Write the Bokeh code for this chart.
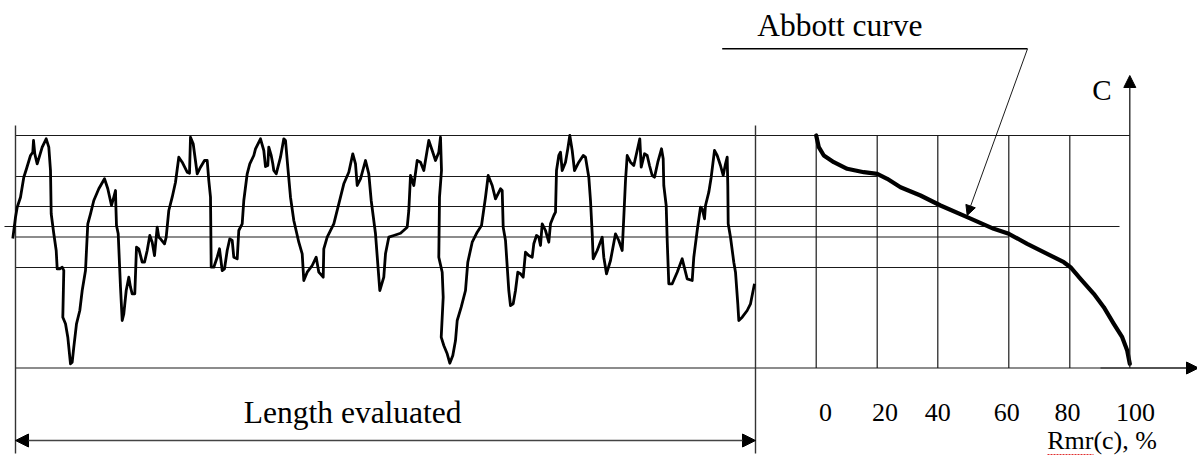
from bokeh.plotting import figure
from bokeh.models import Range1d, Arrow, NormalHead
from bokeh.core.properties import value
from bokeh.embed import file_html
from bokeh.resources import INLINE

# ---------------- data ----------------
# roughness profile: position along the evaluation length, height relative to the mean line
profile_x = [12.3, 15, 16.7, 20, 23.3, 26, 30, 32.3, 33, 34.3, 36.7, 41.7, 45.7, 48.3, 50, 50.7, 53.3, 55.7, 56.7, 59.3,
             61.7, 63.3, 62.3, 65, 67.3, 70, 71.7, 73.3, 76, 79.3, 81.7, 85, 87.3, 90, 93.3, 98.3, 104, 107.3, 111, 113.3,
             115, 115.3, 116, 117.7, 120, 121.7, 123.3, 125.7, 128.3, 130, 131.7, 134.3, 136, 138.3, 141.7, 144, 146.7, 149.3, 151.7, 154,
             156.7, 158.3, 160, 164, 165.7, 168.3, 171.7, 175, 178.3, 181.7, 186.7, 189, 190, 192.7, 196.7, 200, 204, 206.7, 208.3, 210,
             210.7, 213.3, 216.7, 219, 221.7, 224, 226.7, 229.3, 231.7, 233.3, 236.7, 238.3, 241.7, 243.3, 246.7, 249.3, 253.3, 255, 260, 263.3,
             265, 267.3, 268.3, 270.7, 272.3, 273.3, 275.7, 280, 283.3, 285, 287.3, 290, 293.3, 298.3, 301.7, 303.3, 306.7, 311.7, 315.7, 318.3,
             322.7, 323.3, 326.7, 333.3, 338.3, 343.3, 348.3, 352.3, 355, 356.7, 360, 365, 368.3, 370.7, 375, 379.3, 383.3, 385, 388.3, 393.3,
             400, 406.7, 408.3, 410, 413.3, 416.7, 420, 423.3, 428.3, 431.7, 435, 438.3, 440, 441, 439, 438.3, 441.7, 442.7, 440.7, 443.3,
             446.7, 449.3, 452.3, 455, 456.7, 460.7, 465, 467.3, 471.7, 476.7, 481, 485, 487.7, 491.7, 495, 500, 501.7, 502.7, 505, 508.3,
             510, 512.7, 515, 517.3, 520, 522.7, 525, 528.3, 531.7, 533.3, 536, 538.3, 540, 541.7, 545, 548.3, 550, 553.3, 555, 556,
             558.3, 560, 561.7, 565, 567.3, 569.3, 571.7, 574, 578.3, 582.7, 585, 588.3, 590, 591.7, 592.7, 596.7, 601.7, 603.3, 606, 610,
             615, 618.3, 621.7, 623.3, 625, 626.7, 630, 633.3, 636.7, 639.3, 640.7, 644, 646.7, 649, 651.7, 654, 657.3, 661, 662.7, 663.3,
             665.7, 666.7, 668.3, 671.7, 676.7, 681.7, 686.7, 691.7, 693.3, 696.7, 700, 701.7, 704, 705, 708.3, 710.7, 714, 716.7, 720, 722.7,
             725, 726.7, 727.3, 727.7, 730, 733.3, 735, 737.3, 738.3, 741.7, 746.7, 750, 754]
profile_z = [-12, 9.3, 19.3, 29.3, 49.3, 57.7, 71, 74.3, 86, 72.7, 62.7, 79.3, 87.7, 79.3, 56, 12.7, -7.3, -24, -42.3, -42.3,
             -40.7, -44, -90.7, -97.3, -110.7, -137.3, -135.7, -120.7, -97.3, -84, -64, -44, 2.7, 12.7, 26, 37.7, 47.7, 37.7, 21, 29.3,
             36, 22.7, 1, -7.3, -60.7, -94, -87.3, -64, -50.7, -60.7, -67.3, -67.3, -20.7, -22.3, -35.7, -35.7, -24, -9, -15.7, -29,
             -0.7, -10.7, -12.3, -17.3, -10.7, 16, 29.3, 44.3, 69.3, 64.3, 54.3, 53.3, 89.3, 82.7, 52.7, 59.3, 66, 66, 46, 29.3,
             -40.7, -40.7, -30.7, -22.3, -44, -42.3, -24, -12.3, -14, -30.7, -32.3, -4, 2.7, 26, 52.7, 62.7, 71, 77.7, 87.7, 76,
             60, 61, 79.3, 71, 62.7, 56, 52.7, 69.3, 87.7, 86, 59.3, 29.3, 6, -15.7, -27.3, -54, -45.7, -39, -30.7, -45.7,
             -50.7, -22.3, -10.7, 2.7, 22.7, 42.7, 54.3, 72.7, 62.7, 41, 47.7, 66, 52.7, 26, -7.3, -64, -50.7, -27.3, -10.7, -9,
             -6.7, -0.7, 16, 51, 41, 66, 64.3, 56, 86, 76, 66, 74.3, 89.3, 56, 29.3, -30.7, -45.7, -70.7, -110.7, -119,
             -127.3, -136.7, -129, -114, -94, -80.7, -64, -35.7, -15.7, -5.7, 1, 29.3, 51, 41, 27.7, 37.7, 36, -0.7, -14, -64,
             -79, -77.3, -64, -45.7, -47.3, -50.7, -25.7, -29, -30.7, -17.3, -9, -10.7, -19, 2.7, -4, -15.7, 2.7, 11, 14.3, 56,
             71, 74.3, 56, 64.3, 77.7, 91, 76, 56, 64.3, 71, 69.3, 49.3, 26, -7.3, -32.3, -24, -10.7, -30.7, -47.3, -34,
             -7.3, -14, -24, 9.3, 46, 71, 64.3, 61, 76, 87.7, 59.3, 72.7, 71, 61, 51, 49.3, 64.3, 77.7, 67.7, 41,
             21, -14, -57.3, -57.3, -45.7, -32.3, -52.3, -54, -30.7, -4, 19.3, 17.7, 7.7, 21, 34.3, 49.3, 76, 71, 61, 51,
             62.7, 69.3, 41, 2.7, -10.7, -35.7, -45.7, -77.3, -94, -90.7, -84, -77.3, -57.3]

# Abbott (material ratio) curve
abbott_x = [815.7, 818.3, 823.3, 833.3, 846.7, 863.3, 876.7, 886.7, 900, 920, 940, 966.7, 993.3, 1008.3, 1026.7,
            1046.7, 1063.3, 1070, 1080, 1093.3, 1103.3, 1113.3, 1121.7, 1126.7, 1129.3]
abbott_z = [91, 79.3, 71, 64.3, 57.7, 54.3, 52.7, 47.7, 39.3, 31, 21, 9.3, -2.3, -7.3, -17.3,
            -27.3, -35.7, -40.7, -52.3, -67.3, -80.7, -97.3, -110.7, -124, -137.3]

# section levels (height) and where each level line ends on the Rmr grid
level_z = [91, 50, 20, 0, -10.5, -41, -141.5]
level_start = [15, 15, 15, 4, 15, 15, 15]
level_end = [1129.3, 876.7, 937.3, 1119, 1008.3, 1069.3, 1197]

# Rmr grid
rmr_grid_x = [815.7, 876.7, 937.3, 1008.3, 1069.3]
rmr_labels = ["0", "20", "40", "60", "80", "100"]
rmr_label_x = [825, 884.5, 937.3, 1006.2, 1067, 1135]

# ---------------- figure ----------------
TOP, BOTTOM = 91, -141.5
p = figure(width=1197, height=457, x_range=Range1d(0, 1197), y_range=Range1d(-231, 226),
           output_backend="svg", toolbar_location=None, min_border=0,
           x_axis_location=None, y_axis_location=None)
p.grid.visible = False
p.outline_line_color = None
p.background_fill_color = "white"
p.border_fill_color = "white"

LC = "#1a1a1a"
# level lines
p.multi_line(xs=[[s, e] for s, e in zip(level_start, level_end)],
             ys=[[z, z] for z in level_z], line_color=LC, line_width=1.2)
# frame verticals
p.multi_line(xs=[[15, 15], [755, 755]], ys=[[101, -227], [101, -227]], line_color="#333333", line_width=1.4)
# Rmr grid verticals
p.multi_line(xs=[[x, x] for x in rmr_grid_x], ys=[[TOP, BOTTOM] for _ in rmr_grid_x],
             line_color=LC, line_width=1.2)

# profile
p.line(profile_x, profile_z, line_color="black", line_width=2.8, line_join="round")
# Abbott curve
p.line(abbott_x, abbott_z, line_color="black", line_width=4.2, line_join="round", line_cap="round")

# axis arrows
p.add_layout(Arrow(end=NormalHead(size=12, fill_color="black", line_color="black"),
                   x_start=1129.3, y_start=BOTTOM, x_end=1129.3, y_end=151,
                   line_color=LC, line_width=1.3))
p.add_layout(Arrow(end=NormalHead(size=12, fill_color="black", line_color="black"),
                   x_start=1100, y_start=BOTTOM, x_end=1198, y_end=BOTTOM,
                   line_color=LC, line_width=1.2))
# length evaluated double arrow
p.add_layout(Arrow(start=NormalHead(size=13, fill_color="black", line_color="black"),
                   end=NormalHead(size=13, fill_color="black", line_color="black"),
                   x_start=15, y_start=-214, x_end=755, y_end=-214,
                   line_color="#444444", line_width=1.6))
# Abbott curve leader
p.line([721.7, 1027], [177.7, 177.7], line_color="black", line_width=1.4)
p.add_layout(Arrow(end=NormalHead(size=10, fill_color="black", line_color="black"),
                   x_start=1027, y_start=177.7, x_end=966.7, y_end=11,
                   line_color="black", line_width=0.9))

SERIF = value("Liberation Serif")
p.text(x=[243.3], y=[-185.7], text=["Length evaluated"], text_font=SERIF, text_font_size="31.5px",
       text_align="left", text_baseline="alphabetic", text_color="black")
p.text(x=[756.7], y=[200.7], text=["Abbott curve"], text_font=SERIF, text_font_size="31.5px",
       text_align="left", text_baseline="alphabetic", text_color="black")
p.text(x=[1091.7], y=[137], text=["C"], text_font=SERIF, text_font_size="29px",
       text_align="left", text_baseline="alphabetic", text_color="black")
p.text(x=rmr_label_x, y=[-185.7] * len(rmr_label_x), text=rmr_labels, text_font=SERIF, text_font_size="26px",
       text_align="center", text_baseline="alphabetic", text_color="black")
p.text(x=[1046.7], y=[-214], text=["Rmr(c), %"], text_font=SERIF, text_font_size="26px",
       text_align="left", text_baseline="alphabetic", text_color="black")
# spell-check squiggle under "Rmr"
p.line([1047, 1093], [-228, -228], line_color="#e03030", line_width=1, line_dash="2 1")

open("out.html", "w").write(file_html(p, INLINE))
